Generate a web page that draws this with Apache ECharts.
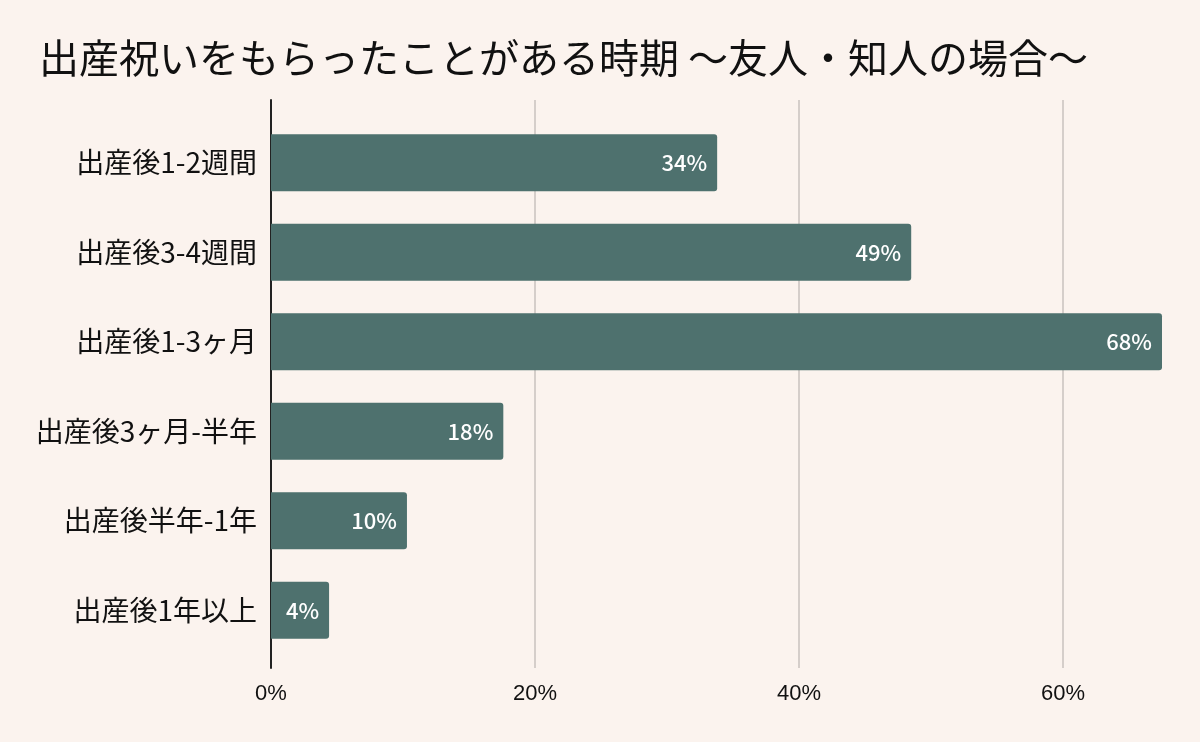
<!DOCTYPE html>
<html><head><meta charset="utf-8">
<script src="https://cdn.jsdelivr.net/npm/echarts@6/dist/echarts.min.js"></script>
<style>html,body{margin:0;padding:0;background:#fbf3ee;}#c{width:1200px;height:742px;}</style>
</head><body><div id="c"></div>
<script>
const title = '出産祝いをもらったことがある時期 ～友人・知人の場合～';
const categories = ['出産後1-2週間','出産後3-4週間','出産後1-3ヶ月','出産後3ヶ月-半年','出産後半年-1年','出産後1年以上'];
const values = [33.8, 48.5, 67.5, 17.6, 10.3, 4.4];
const xMax = 67.5;
const xTicks = [0, 20, 40, 60];

const chart = echarts.init(document.getElementById('c'));
const cjk = '"Noto Sans CJK JP", "Noto Sans", sans-serif';
chart.setOption({
  backgroundColor: '#fbf3ee',
  animation: false,
  title: { text: title, left: 34, top: 33, textStyle: { fontFamily: cjk, fontSize: 40, fontWeight: 'normal', color: '#111' } },
  grid: [
    { left: 271, right: 38, top: 100, bottom: 74 },
    { left: 271, right: 38, top: 118, bottom: 87 }
  ],
  xAxis: [
    { type: 'value', gridIndex: 0, min: 0, max: xMax, interval: 20,
      axisLine: { show: false }, axisTick: { show: false },
      splitLine: { show: true, lineStyle: { color: '#c8c2be', width: 1.5 }, showMaxLine: false },
      axisLabel: { margin: 15, fontFamily: 'Arial, "Liberation Sans", sans-serif', fontSize: 22, color: '#111',
        formatter: v => xTicks.includes(v) ? v + '%' : '', showMaxLabel: false } },
    { type: 'value', gridIndex: 1, min: 0, max: xMax, show: false }
  ],
  yAxis: [
    { type: 'value', gridIndex: 0, axisLine: { show: true, lineStyle: { color: '#222', width: 2 } },
      axisLabel: { show: false }, splitLine: { show: false }, axisTick: { show: false } },
    { type: 'category', gridIndex: 1, data: categories, inverse: true,
      axisLine: { show: false }, axisTick: { show: false },
      axisLabel: { margin: 14, fontFamily: cjk, fontSize: 28, color: '#111' } }
  ],
  series: [{
    type: 'bar', xAxisIndex: 1, yAxisIndex: 1, data: values, barWidth: 57,
    itemStyle: { color: '#4e716e', borderRadius: [0, 3, 3, 0] },
    label: { show: true, position: 'insideRight', distance: 10, color: '#fff',
      fontFamily: cjk, fontSize: 22, fontWeight: 500,
      formatter: p => Math.round(p.value) + '%' }
  }]
});
</script></body></html>
